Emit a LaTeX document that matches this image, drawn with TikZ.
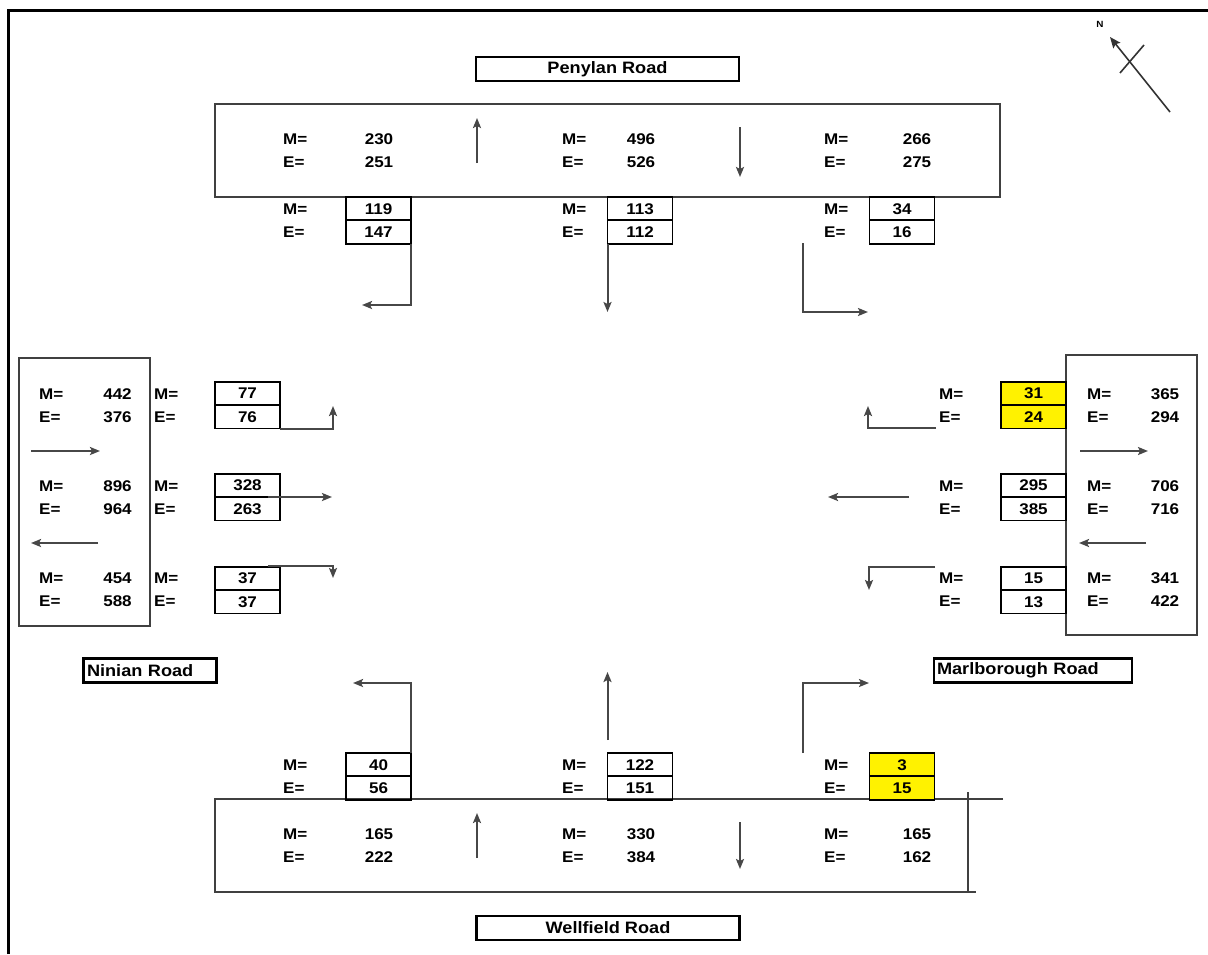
\documentclass[tikz,border=0pt]{standalone}
\usepackage{fontspec}
\setmainfont{Liberation Sans}[FakeStretch=1.1]
\usetikzlibrary{positioning,arrows.meta}

\begin{document}
\begin{tikzpicture}[x=1pt, y=-1pt,
    txt/.style={font=\fontsize{15.5}{17}\selectfont\bfseries, inner sep=0pt},
    lab/.style={txt, anchor=west},
    cell/.style={txt, draw, line width=1.8pt, minimum width=65pt, minimum height=23.3pt, outer sep=0pt},
    hot/.style={cell, fill=yellow},
    road/.style={draw, line width=2.6pt, inner sep=0pt, minimum height=24pt, font=\fontsize{16.5}{19}\selectfont\bfseries},
    lane/.style={draw=black!75, line width=2pt},
    flow/.style={-{Stealth[length=10pt, width=8pt, inset=2pt]}, draw=black!72, line width=2pt}]
    \useasboundingbox (0,0) rectangle (1208,954);

    % Frame
    \draw[line width=3pt] (8,954) -- (8,10) -- (1208,10);

    % North sign
    \node[font=\fontsize{9}{10}\selectfont\bfseries] (north) at (1100,24) {N};
    \draw[-{Stealth[length=11pt, width=9pt, inset=2pt]}, line width=1.6pt, black!80] (1170,112) -- (1110,37);
    \draw[line width=1.6pt, black!80] (1144,45) -- (1120,73);

    % Road names
    \node[road, minimum width=263pt] (penylan) at (607.5,69) {Penylan Road};
    \node[road, minimum width=263pt] (wellfield) at (608,928) {Wellfield Road};
    \node[road, minimum width=133pt, text width=126pt, align=left] (ninian) at (150,670.5) {Ninian Road};
    \node[road, minimum width=198pt, text width=192pt, align=left] (marlborough) at (1033,670.5) {Marlborough Road};

    % Penylan Road
    \draw[lane] (215,104) rectangle (1000,197);
    \node[lab] at (283,139) {M=}; \node[txt] at (379,139) {230};
    \node[lab] at (283,162) {E=}; \node[txt] at (379,162) {251};
    \node[lab] at (562,139) {M=}; \node[txt] at (641,139) {496};
    \node[lab] at (562,162) {E=}; \node[txt] at (641,162) {526};
    \node[lab] at (824,139) {M=}; \node[txt] at (917,139) {266};
    \node[lab] at (824,162) {E=}; \node[txt] at (917,162) {275};
    \draw[flow] (477,163) -- (477,118);
    \draw[flow] (740,127) -- (740,177);

    \node[lab] at (283,209) {M=}; \node[lab] at (283,232) {E=};
    \node[cell] (pen1m) at (378.5,208.7) {119};
    \node[cell, below=0pt of pen1m] (pen1e) {147};
    \node[lab] at (562,209) {M=}; \node[lab] at (562,232) {E=};
    \node[cell] (pen2m) at (640,208.7) {113};
    \node[cell, below=0pt of pen2m] (pen2e) {112};
    \node[lab] at (824,209) {M=}; \node[lab] at (824,232) {E=};
    \node[cell] (pen3m) at (902,208.7) {34};
    \node[cell, below=0pt of pen3m] (pen3e) {16};

    \coordinate (pen1end) at (362,305);
    \coordinate (pen2end) at (607.5,312);
    \coordinate (pen3start) at (803,243);
    \coordinate (pen3end) at (868,312);
    \draw[flow] (pen1e.south east) |- (pen1end);
    \draw[flow] (pen2e.south west) -- (pen2end);
    \draw[flow] (pen3start) |- (pen3end);

    % Ninian Road
    \draw[lane] (19,358) rectangle (150,626);
    \node[lab] at (39,394) {M=}; \node[txt] at (117.5,394) {442};
    \node[lab] at (39,417) {E=}; \node[txt] at (117.5,417) {376};
    \node[lab] at (39,486) {M=}; \node[txt] at (117.5,486) {896};
    \node[lab] at (39,509) {E=}; \node[txt] at (117.5,509) {964};
    \node[lab] at (39,578) {M=}; \node[txt] at (117.5,578) {454};
    \node[lab] at (39,601) {E=}; \node[txt] at (117.5,601) {588};
    \draw[flow] (31,451) -- (100,451);
    \draw[flow] (98,543) -- (31,543);

    \node[lab] at (154,394) {M=}; \node[lab] at (154,417) {E=};
    \node[cell] (nin1m) at (247.5,393.6) {77};
    \node[cell, below=0pt of nin1m] (nin1e) {76};
    \node[lab] at (154,486) {M=}; \node[lab] at (154,509) {E=};
    \node[cell] (nin2m) at (247.5,485.6) {328};
    \node[cell, below=0pt of nin2m] (nin2e) {263};
    \node[lab] at (154,578) {M=}; \node[lab] at (154,601) {E=};
    \node[cell] (nin3m) at (247.5,578.6) {37};
    \node[cell, below=0pt of nin3m] (nin3e) {37};

    \coordinate (nin1end) at (333,406);
    \coordinate (nin2start) at (268,497);
    \coordinate (nin2end) at (332,497);
    \coordinate (nin3start) at (268,566);
    \coordinate (nin3end) at (333,578);
    \draw[flow] (nin1e.south east) -| (nin1end);
    \draw[flow] (nin2start) -- (nin2end);
    \draw[flow] (nin3start) -| (nin3end);

    % Marlborough Road
    \draw[lane] (1066,355) rectangle (1197,635);
    \node[lab] at (1087,394) {M=}; \node[txt] at (1165,394) {365};
    \node[lab] at (1087,417) {E=}; \node[txt] at (1165,417) {294};
    \node[lab] at (1087,486) {M=}; \node[txt] at (1165,486) {706};
    \node[lab] at (1087,509) {E=}; \node[txt] at (1165,509) {716};
    \node[lab] at (1087,578) {M=}; \node[txt] at (1165,578) {341};
    \node[lab] at (1087,601) {E=}; \node[txt] at (1165,601) {422};
    \draw[flow] (1080,451) -- (1148,451);
    \draw[flow] (1146,543) -- (1079,543);

    \node[lab] at (939,394) {M=}; \node[lab] at (939,417) {E=};
    \node[hot] (mar1m) at (1033.5,393.6) {31};
    \node[hot, below=0pt of mar1m] (mar1e) {24};
    \node[lab] at (939,486) {M=}; \node[lab] at (939,509) {E=};
    \node[cell] (mar2m) at (1033.5,485.6) {295};
    \node[cell, below=0pt of mar2m] (mar2e) {385};
    \node[lab] at (939,578) {M=}; \node[lab] at (939,601) {E=};
    \node[cell] (mar3m) at (1033.5,578.6) {15};
    \node[cell, below=0pt of mar3m] (mar3e) {13};

    \coordinate (mar1start) at (936,428);
    \coordinate (mar1end) at (868,406);
    \coordinate (mar2start) at (909,497);
    \coordinate (mar2end) at (828,497);
    \coordinate (mar3start) at (935,567);
    \coordinate (mar3end) at (869,590);
    \draw[flow] (mar1start) -| (mar1end);
    \draw[flow] (mar2start) -- (mar2end);
    \draw[flow] (mar3start) -| (mar3end);

    % Wellfield Road
    \draw[lane] (1003,799) -- (215,799) -- (215,892) -- (976,892);
    \draw[lane] (968,792) -- (968,892);
    \node[lab] at (283,834) {M=}; \node[txt] at (379,834) {165};
    \node[lab] at (283,857) {E=}; \node[txt] at (379,857) {222};
    \node[lab] at (562,834) {M=}; \node[txt] at (641,834) {330};
    \node[lab] at (562,857) {E=}; \node[txt] at (641,857) {384};
    \node[lab] at (824,834) {M=}; \node[txt] at (917,834) {165};
    \node[lab] at (824,857) {E=}; \node[txt] at (917,857) {162};
    \draw[flow] (477,858) -- (477,813);
    \draw[flow] (740,822) -- (740,869);

    \node[lab] at (283,765) {M=}; \node[lab] at (283,788) {E=};
    \node[cell] (wel1m) at (378.5,764.7) {40};
    \node[cell, below=0pt of wel1m] (wel1e) {56};
    \node[lab] at (562,765) {M=}; \node[lab] at (562,788) {E=};
    \node[cell] (wel2m) at (640,764.7) {122};
    \node[cell, below=0pt of wel2m] (wel2e) {151};
    \node[lab] at (824,765) {M=}; \node[lab] at (824,788) {E=};
    \node[hot] (wel3m) at (902,764.7) {3};
    \node[hot, below=0pt of wel3m] (wel3e) {15};

    \coordinate (wel1end) at (353,683);
    \coordinate (wel2start) at (607.5,740);
    \coordinate (wel2end) at (607.5,672);
    \coordinate (wel3start) at (803,753);
    \coordinate (wel3end) at (869,683);
    \draw[flow] (wel1m.north east) |- (wel1end);
    \draw[flow] (wel2start) -- (wel2end);
    \draw[flow] (wel3start) |- (wel3end);
\end{tikzpicture}
\end{document}
